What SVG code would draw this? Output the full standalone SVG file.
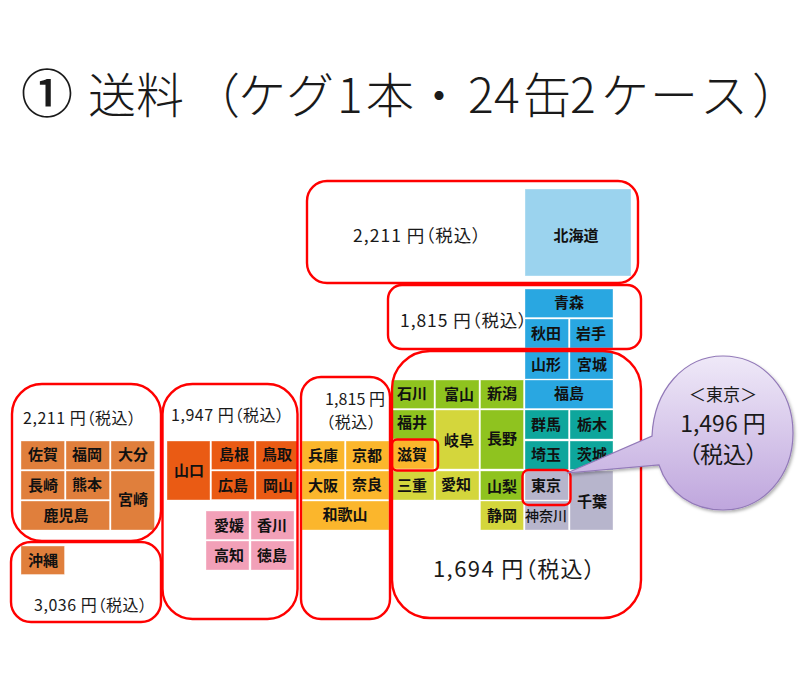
<svg xmlns="http://www.w3.org/2000/svg" width="800" height="676" viewBox="0 0 800 676" xml:lang="ja">
<style>
text{font-family:"Noto Sans CJK JP","Liberation Sans",sans-serif;fill:#1a1a1a}
.c text,.n{font-size:15px;font-weight:700;text-anchor:middle;fill:#111}
.c rect{stroke:#fff;stroke-opacity:.45;stroke-width:.8}
.r{fill:none;stroke:#f00;stroke-width:2.4}
.p{font-size:17.5px;font-feature-settings:"palt"}
.q{font-size:16px;font-feature-settings:"palt"}
.t{font-size:48px;font-weight:300}
.o{fill:#e07f3c}.s{fill:#ea5b14}.k{fill:#f2a0b8}.y{fill:#fbb62c}.g{fill:#8fc31f}.l{fill:#d4d63c}.b{fill:#29a7e1}.h{fill:#9bd3ee}.e{fill:#0ea69c}.a{fill:#b7b5cc}
</style>
<defs>
<linearGradient id="bub" x1="0" y1="0" x2="0" y2="1"><stop offset="0" stop-color="#efe9f8"/><stop offset="1" stop-color="#bfa6dd"/></linearGradient>
<filter id="sh" x="-10%" y="-10%" width="125%" height="125%"><feDropShadow dx="1.5" dy="2" stdDeviation="1.5" flood-color="#000" flood-opacity=".3"/></filter>
</defs>
<g id="title">
<text x="21" y="113" style="font-size:52px;font-weight:500">①</text>
<text class="t" y="113" x="88 136 192 238 286 337 366 415 468 494 523 570 601 650 700 752">送料（ケグ1本・24缶2ケース）</text>
</g>
<g id="prefectures" class="c">
<g id="n-saga"><rect class="o" x="21" y="441" width="43.5" height="28.5"/><text x="43" y="460">佐賀</text></g>
<g id="n-fukuoka"><rect class="o" x="66" y="441" width="43.5" height="28.5"/><text x="87" y="460">福岡</text></g>
<g id="n-oita"><rect class="o" x="111" y="441" width="43.5" height="28.5"/><text x="133" y="460">大分</text></g>
<g id="n-nagasaki"><rect class="o" x="21" y="471" width="43.5" height="28.5"/><text x="43" y="491">長崎</text></g>
<g id="n-kumamoto"><rect class="o" x="66" y="471" width="43.5" height="28.5"/><text x="87" y="490">熊本</text></g>
<g id="n-miyazaki"><rect class="o" x="111" y="471" width="43.5" height="59"/><text x="133" y="505">宮崎</text></g>
<g id="n-kagoshima"><rect class="o" x="21" y="501" width="88.5" height="29"/><text x="66" y="521">鹿児島</text></g>
<g id="n-okinawa"><rect class="o" x="21" y="546" width="43.5" height="28.5"/><text x="43" y="566">沖縄</text></g>
<g id="n-yamaguchi"><rect class="s" x="167" y="441" width="43" height="59"/><text x="189" y="476">山口</text></g>
<g id="n-shimane"><rect class="s" x="211.500" y="441" width="43" height="28.5"/><text x="234" y="460">島根</text></g>
<g id="n-tottori"><rect class="s" x="256" y="441" width="42" height="28.5"/><text x="277" y="460">鳥取</text></g>
<g id="n-hiroshima"><rect class="s" x="211.500" y="471" width="43" height="28.5"/><text x="233" y="491">広島</text></g>
<g id="n-okayama"><rect class="s" x="256" y="471" width="42" height="28.5"/><text x="278" y="491">岡山</text></g>
<g id="n-ehime"><rect class="k" x="206" y="511" width="43" height="28.5"/><text x="229" y="531">愛媛</text></g>
<g id="n-kagawa"><rect class="k" x="251" y="511" width="43" height="28.5"/><text x="272" y="531">香川</text></g>
<g id="n-kochi"><rect class="k" x="206" y="541" width="43" height="29"/><text x="229" y="561">高知</text></g>
<g id="n-tokushima"><rect class="k" x="251" y="541" width="43" height="29"/><text x="272" y="561">徳島</text></g>
<g id="n-hyogo"><rect class="y" x="302" y="441" width="42.500" height="28.5"/><text x="323" y="461">兵庫</text></g>
<g id="n-kyoto"><rect class="y" x="346" y="441" width="43" height="28.5"/><text x="367" y="461">京都</text></g>
<g id="n-osaka"><rect class="y" x="302" y="471" width="42.500" height="28.5"/><text x="323" y="491">大阪</text></g>
<g id="n-nara"><rect class="y" x="346" y="471" width="43" height="28.5"/><text x="367" y="490">奈良</text></g>
<g id="n-wakayama"><rect class="y" x="302" y="501" width="87" height="29"/><text x="345" y="520">和歌山</text></g>
<g id="n-ishikawa"><rect class="g" x="392" y="380" width="42" height="28.5"/><text x="412" y="399">石川</text></g>
<g id="n-toyama"><rect class="g" x="435.500" y="380" width="43.5" height="28.5"/><text x="459" y="400">富山</text></g>
<g id="n-niigata"><rect class="g" x="480.500" y="380" width="43" height="28.5"/><text x="502" y="399">新潟</text></g>
<g id="n-fukui"><rect class="g" x="392" y="410" width="42" height="29"/><text x="412" y="428">福井</text></g>
<g id="n-shiga"><rect class="y" x="392" y="440" width="42" height="29"/><text x="412" y="460">滋賀</text></g>
<g id="n-gifu"><rect class="l" x="435.500" y="410" width="43.5" height="59"/><text x="459" y="446">岐阜</text></g>
<g id="n-nagano"><rect class="g" x="480.500" y="410" width="43" height="59"/><text x="502" y="444">長野</text></g>
<g id="n-mie"><rect class="l" x="392" y="471" width="42" height="29"/><text x="412" y="491">三重</text></g>
<g id="n-aichi"><rect class="l" x="435.500" y="471" width="43.5" height="29"/><text x="456" y="490">愛知</text></g>
<g id="n-yamanashi"><rect class="g" x="480.500" y="471" width="43" height="29"/><text x="502" y="492">山梨</text></g>
<g id="n-shizuoka"><rect class="l" x="480.500" y="501" width="43" height="29"/><text x="502" y="521">静岡</text></g>
<g id="n-hokkaido"><rect class="h" x="525" y="189" width="106" height="87"/><text x="576" y="241">北海道</text></g>
<g id="n-aomori"><rect class="b" x="525" y="289" width="88" height="28.500"/><text x="569" y="308">青森</text></g>
<g id="n-akita"><rect class="b" x="525" y="319" width="43.500" height="29"/><text x="546" y="339">秋田</text></g>
<g id="n-iwate"><rect class="b" x="570" y="319" width="43" height="29"/><text x="591" y="339">岩手</text></g>
<g id="n-yamagata"><rect class="b" x="525" y="351" width="43.500" height="28"/><text x="546" y="370">山形</text></g>
<g id="n-miyagi"><rect class="b" x="570" y="351" width="43" height="28"/><text x="592" y="370">宮城</text></g>
<g id="n-fukushima"><rect class="b" x="525" y="380" width="88" height="28.5"/><text x="569" y="399">福島</text></g>
<g id="n-gunma"><rect class="e" x="525" y="410" width="43.500" height="29"/><text x="546" y="430">群馬</text></g>
<g id="n-tochigi"><rect class="e" x="570" y="410" width="43" height="29"/><text x="592" y="430">栃木</text></g>
<g id="n-saitama"><rect class="e" x="525" y="441" width="43.500" height="28.5"/><text x="546" y="460">埼玉</text></g>
<g id="n-ibaraki"><rect class="e" x="570" y="441" width="43" height="28.5"/><text x="592" y="460">茨城</text></g>
<g id="n-tokyo"><rect class="a" x="525" y="471" width="43.500" height="29"/><text x="546" y="491">東京</text></g>
<g id="n-kanagawa"><rect class="a" x="525" y="501" width="43.500" height="29"/><text x="546" y="521" style="font-size:14px;font-weight:500">神奈川</text></g>
<g id="n-chiba"><rect class="a" x="570" y="471" width="43" height="59"/><text x="592" y="507">千葉</text></g>
</g>
<g id="regions">
<rect id="r-hokkaido" class="r" x="307" y="181" width="331" height="102" rx="20"/>
<rect id="r-tohoku" class="r" x="388" y="285" width="253" height="64" rx="14"/>
<rect id="r-main" class="r" x="392" y="351" width="249" height="267" rx="38"/>
<rect id="r-kansai" class="r" x="301" y="377" width="89" height="242" rx="20"/>
<rect id="r-chugoku" class="r" x="162.500" y="384" width="135" height="235" rx="30"/>
<rect id="r-kyushu" class="r" x="12" y="384" width="149" height="157" rx="30"/>
<rect id="r-okinawa" class="r" x="11" y="542" width="150" height="80" rx="20"/>
<rect id="r-shiga" class="r" x="392" y="439.500" width="46" height="31" rx="5"/>
<rect id="r-tokyo" class="r" x="522.500" y="470" width="48" height="35" rx="6"/>
</g>
<g id="prices">
<text class="p" x="353" y="242" textLength="128">2,211 円（税込）</text>
<text class="p" x="400" y="327" textLength="127">1,815 円（税込）</text>
<text class="q" x="23" y="424" textLength="113">2,211 円（税込）</text>
<text class="q" x="171" y="421" textLength="113">1,947 円（税込）</text>
<text class="q" x="34" y="611" textLength="113">3,036 円（税込）</text>
<text class="q" x="325" y="405" textLength="60">1,815 円</text>
<text class="q" x="326" y="428" textLength="50">（税込）</text>
<text class="p" x="433" y="577" textLength="162" style="font-size:22px">1,694 円（税込）</text>
</g>
<g id="callout">
<path d="M652 436 C654 390 684 356 723 356 C763 356 793 390 793 433 C793 476 763 510 723 510 C693 510 668 493 659 465 L567 473 Z" fill="url(#bub)" stroke="#9279b8" stroke-width="1.2" filter="url(#sh)"/>
<text x="723" y="401" text-anchor="middle" style="font-size:17px">＜東京＞</text>
<text x="723" y="432" text-anchor="middle" style="font-size:23px;font-feature-settings:'palt'">1,496 円</text>
<text x="723" y="463" text-anchor="middle" style="font-size:23px;font-feature-settings:'palt'">（税込）</text>
</g>
</svg>
